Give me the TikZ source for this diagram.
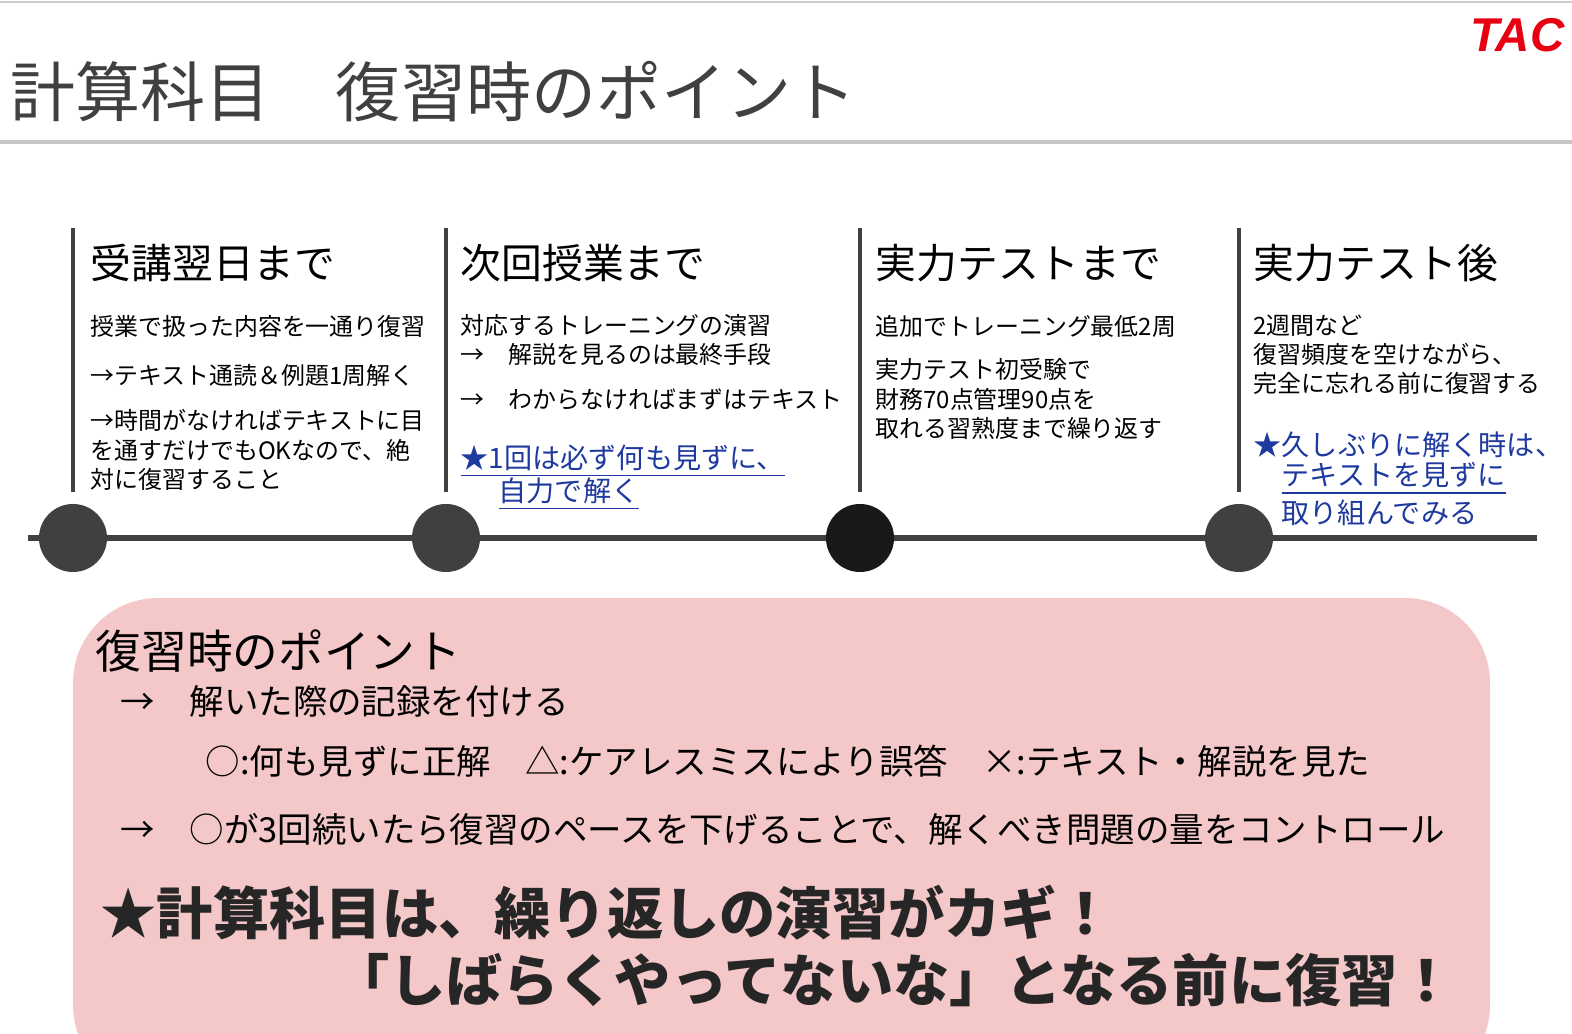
\documentclass[tikz,border=0pt]{standalone}
\usepackage{fontspec}
\setmainfont{Noto Sans CJK JP}
\newfontfamily\latinfont{Liberation Sans}
\definecolor{barcol}{HTML}{404040}
\definecolor{pinkbox}{HTML}{F4C7C9}
\definecolor{bluetxt}{HTML}{1F3A9E}
\definecolor{tacred}{HTML}{E60012}
\newcommand{\fs}[1]{\fontsize{#1}{#1}\selectfont}
\begin{document}
\begin{tikzpicture}[x=0.01cm,y=-0.01cm,
  txt/.style={anchor=west,inner sep=0pt,font=\fs{6.8}},
  multi/.style={anchor=west,inner sep=0pt,align=left,font=\fontsize{6.8}{8.3}\selectfont},
  head/.style={anchor=west,inner sep=0pt,font=\fs{11.6}},
  link/.style={txt,font=\fs{8},text=bluetxt},
  box/.style={anchor=west,inner sep=0pt,font=\fs{9.8}},
  bar/.style={barcol,line width=1.3pt},
  dot/.style={circle,fill=#1,minimum size=0.68cm,inner sep=0pt}]

\useasboundingbox (0,0) rectangle (1572,1034);
\draw[gray!40,line width=0.4pt] (0,2) -- (1572,2);
\node[anchor=east,inner sep=0pt,text=tacred,font=\latinfont\bfseries\itshape\fs{13.5}] (tac) at (1565,35) {TAC};
\node[anchor=west,inner sep=0pt,text=black!75,font=\fs{18.5}] (title) at (10,92) {計算科目　復習時のポイント};
\draw[gray!45,line width=1.1pt] (0,142) -- (1572,142);

% timeline
\coordinate (tl0) at (28,538);
\coordinate (tl1) at (1537,538);
\draw[barcol,line width=1.8pt] (tl0) -- (tl1);
\foreach \x/\c/\n in {73/barcol/a,446/barcol/b,860/black!90/c,1239/barcol/d}{
  \coordinate (top\n) at (\x,228);
  \coordinate (bot\n) at (\x,492);
  \draw[bar] (top\n) -- (bot\n);
  \node[dot=\c] (dot\n) at (\x,538) {};
}

% column 1
\node[head] (h1) at (90,263) {受講翌日まで};
\node[txt] (t11) at (90,326) {授業で扱った内容を一通り復習};
\node[txt] (t12) at (90,375) {→テキスト通読＆例題1周解く};
\node[multi] (t13) at (90,450) {→時間がなければテキストに目\\を通すだけでもOKなので、絶\\対に復習すること};

% column 2
\node[head] (h2) at (460,263) {次回授業まで};
\node[txt] (t21) at (460,325) {対応するトレーニングの演習};
\node[txt] (t22) at (460,354) {→　解説を見るのは最終手段};
\node[txt] (t23) at (460,399) {→　わからなければまずはテキスト};
\node[link] (t24) at (460,461) {\underline{★1回は必ず何も見ずに、}};
\node[link] (t25) at (498,494) {\underline{自力で解く}};

% column 3
\node[head] (h3) at (875,263) {実力テストまで};
\node[txt] (t31) at (875,326) {追加でトレーニング最低2周};
\node[multi] (t32) at (875,399) {実力テスト初受験で\\財務70点管理90点を\\取れる習熟度まで繰り返す};

% column 4
\node[head] (h4) at (1253,263) {実力テスト後};
\node[multi] (t41) at (1253,355) {2週間など\\復習頻度を空けながら、\\完全に忘れる前に復習する};
\node[link] (t42) at (1253,445) {★久しぶりに解く時は、};
\node[link] (t43) at (1281,479) {\underline{テキストを見ずに}};
\node[link] (t44) at (1281,513) {取り組んでみる};

% point box
\fill[pinkbox,rounded corners=0.85cm] (73,598) rectangle (1490,1090);
\node[anchor=west,inner sep=0pt,font=\fs{13}] (p0) at (95,651) {復習時のポイント};
\node[box] (p1) at (120,701) {→　解いた際の記録を付ける};
\node[box] (p2) at (205,761) {○:何も見ずに正解　△:ケアレスミスにより誤答　×:テキスト・解説を見た};
\node[box] (p3) at (120,829) {→　○が3回続いたら復習のペースを下げることで、解くべき問題の量をコントロール};
\node[anchor=west,inner sep=0pt,font=\bfseries\fs{16},text=black!85] (p4) at (100,913) {★計算科目は、繰り返しの演習がカギ！};
\node[anchor=east,inner sep=0pt,font=\bfseries\fs{16},text=black!85] (p5) at (1455,980) {「しばらくやってないな」となる前に復習！};
\end{tikzpicture}
\end{document}
